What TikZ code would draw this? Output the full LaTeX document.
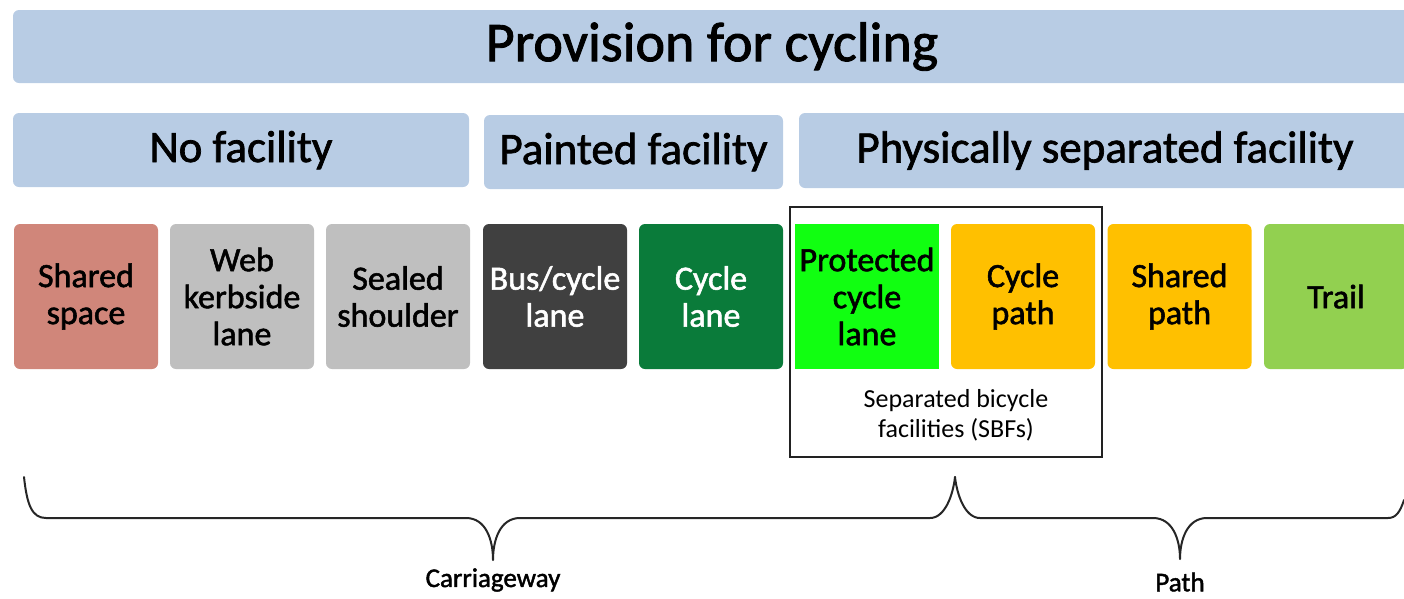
\documentclass[tikz,border=0pt]{standalone}
\usepackage{fontspec}
\setmainfont{Carlito}
\newfontfamily\semib[FakeBold=1.6]{Carlito}
\definecolor{hblue}{HTML}{B8CCE4}
\definecolor{salmon}{HTML}{D0867A}
\definecolor{lgray}{HTML}{BFBFBF}
\definecolor{dgray}{HTML}{404040}
\definecolor{dgreen}{HTML}{0A7B3A}
\definecolor{bgreen}{HTML}{11FF11}
\definecolor{amber}{HTML}{FFC000}
\definecolor{lgreen}{HTML}{92D050}
\definecolor{sbfline}{HTML}{222222}
\tikzset{
  hdr/.style={fill=hblue, rounded corners=6pt, inner sep=0pt, align=center},
  cat/.style={rounded corners=6pt, minimum width=144pt, minimum height=145pt, inner sep=0pt, align=center, font=\semib\fontsize{34}{37}\selectfont},
  brace/.style={line width=2pt, draw=black!85, line cap=round, line join=round},
  blabel/.style={font=\semib\fontsize{27}{30}\selectfont, inner sep=1pt},
}
\begin{document}
\begin{tikzpicture}[x=1pt,y=-1pt]
\useasboundingbox (0,0) rectangle (1404,598);
\clip (0,0) rectangle (1404,598);
% headers
\node[hdr, minimum width=1398pt, minimum height=73pt, font=\semib\fontsize{56}{60}\selectfont] (title) at (712,46.5) {Provision for cycling};
\node[hdr, minimum width=456pt, minimum height=74pt, font=\semib\fontsize{45}{49}\selectfont] (nofac) at (241,150) {No facility};
\node[hdr, minimum width=299pt, minimum height=74pt, font=\semib\fontsize{45}{49}\selectfont] (paint) at (633.5,152) {Painted facility};
\node[hdr, minimum width=612pt, minimum height=75pt, font=\semib\fontsize{45}{49}\selectfont] (phys) at (1105,150.5) {Physically separated facility};
% separated bicycle facilities frame
\node[draw=sbfline, line width=2pt, minimum width=312pt, minimum height=250pt, inner sep=0pt] (sbf) at (946,332) {};
\node[font=\fontsize{26}{30}\selectfont, align=center] (sbftext) at (956,415) {Separated bicycle\\facilities (SBFs)};
% categories
\node[cat, fill=salmon] (shared) at (86,296.5) {Shared\\space};
\node[cat, fill=lgray] (web) at (242,296.5) {Web\\kerbside\\lane};
\node[cat, fill=lgray] (sealed) at (398,296.5) {Sealed\\shoulder};
\node[cat, fill=dgray, text=white] (bus) at (555,296.5) {Bus/cycle\\lane};
\node[cat, fill=dgreen, text=white] (clane) at (711,296.5) {Cycle\\lane};
\node[cat, fill=bgreen, rounded corners=0pt] (prot) at (867,296.5) {Protected\\cycle\\lane};
\node[cat, fill=amber] (cpath) at (1023,296.5) {Cycle\\path};
\node[cat, fill=amber] (spath) at (1179.5,296.5) {Shared\\path};
\node[cat, fill=lgreen] (trail) at (1336,296.5) {Trail};
% braces
\coordinate (b0) at (24,477);
\coordinate (b1) at (955,477);
\coordinate (b2) at (1404,500);
\coordinate (t1) at (493,560);
\coordinate (t2) at (1180,559);
\draw[brace] (b0) .. controls (27,505) and (32,518) .. (46,518)
  -- (466,518) .. controls (486,518) and (493,540) .. (t1)
  .. controls (493,540) and (500,518) .. (520,518)
  -- (930,518) .. controls (945,518) and (953,495) .. (b1);
\draw[brace] (b1) .. controls (957,495) and (965,518) .. (980,518)
  -- (1153,518) .. controls (1173,518) and (1180,540) .. (t2)
  .. controls (1180,540) and (1187,518) .. (1207,518)
  -- (1388,518) .. controls (1396,518) and (1400,512) .. (b2);
\node[blabel] (carr) at (493,580) {Carriageway};
\node[blabel] (path) at (1180,582) {Path};
\end{tikzpicture}
\end{document}
